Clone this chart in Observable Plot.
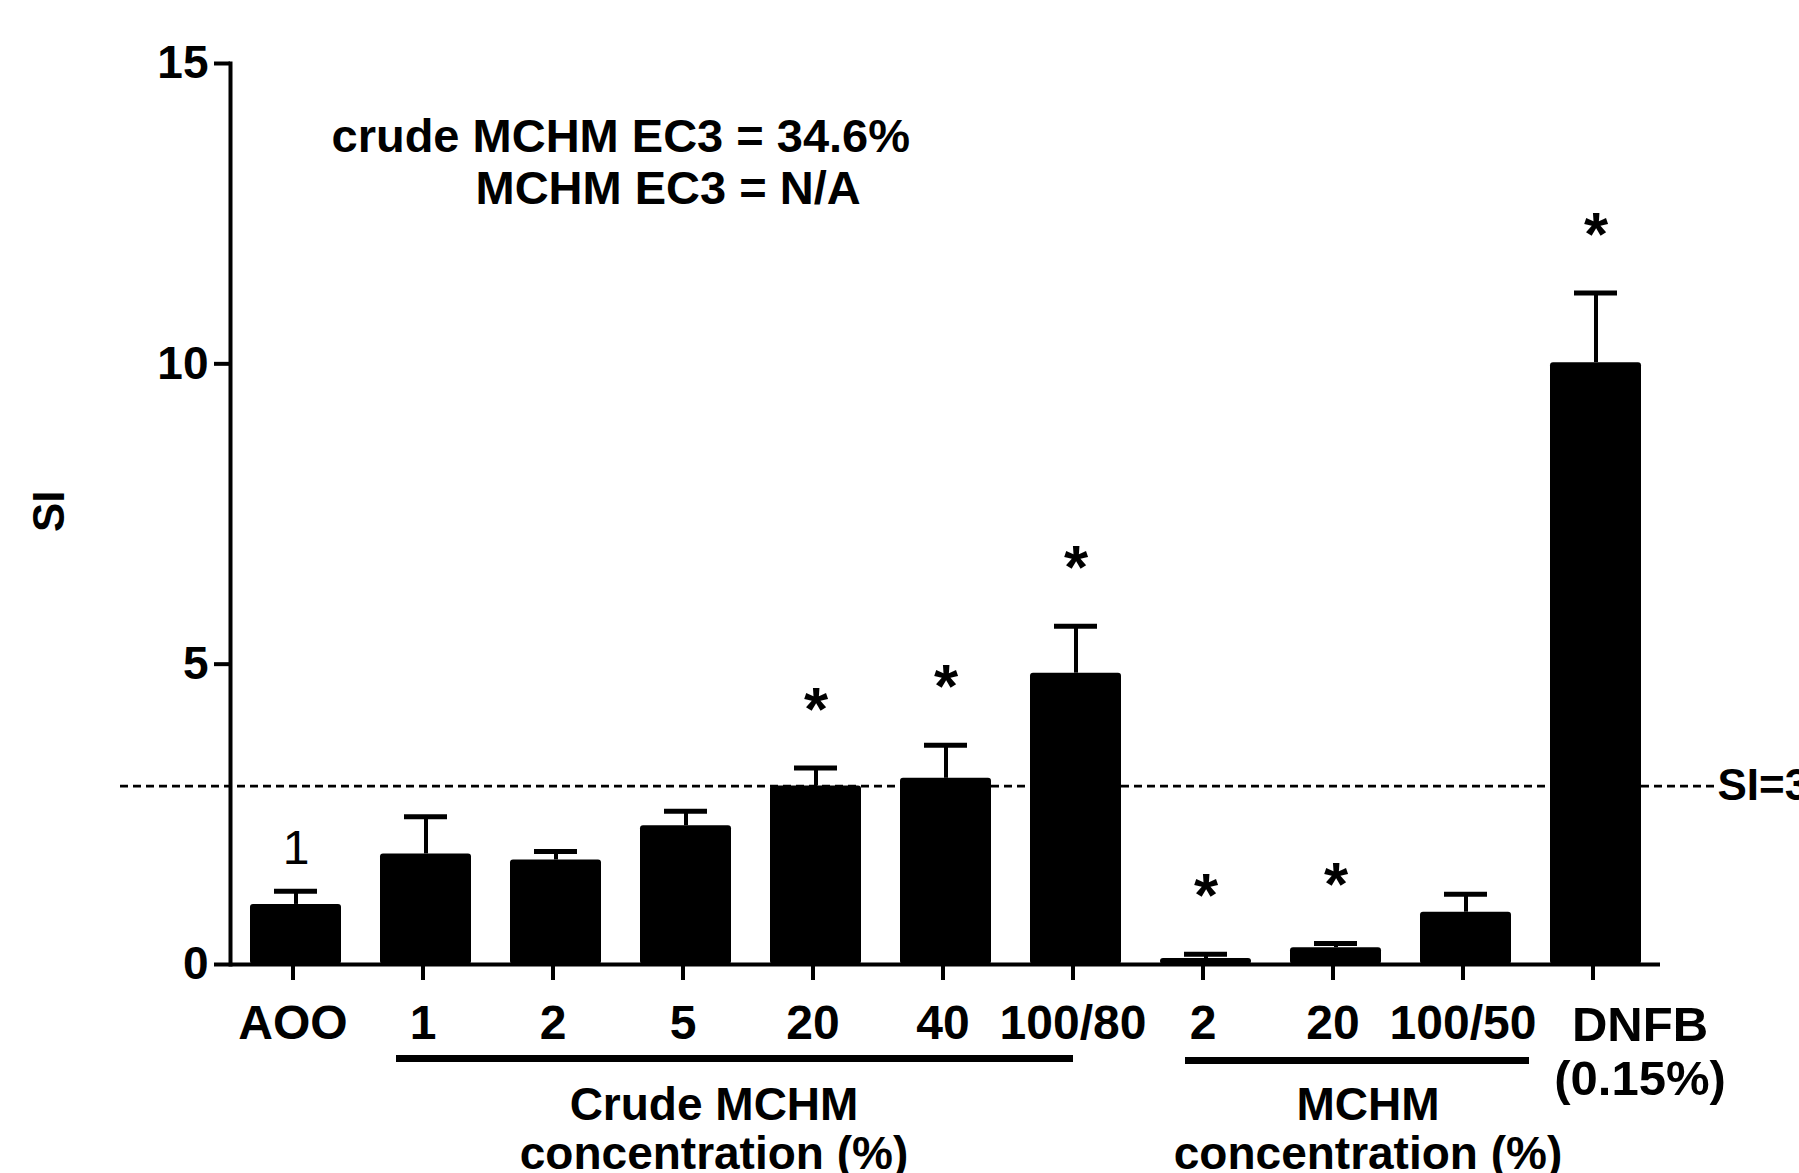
<!DOCTYPE html>
<html><head><meta charset="utf-8">
<script src="https://cdn.jsdelivr.net/npm/d3@7"></script>
<script src="https://cdn.jsdelivr.net/npm/@observablehq/plot@0.6"></script>
<style>body{margin:0;background:#fff;overflow:hidden}</style>
</head><body><div id="chart"></div>
<script>
const categories = ["AOO","C1","C2","C5","C20","C40","C100","M2","M20","M100","DNFB"];
const tickLabels = ["AOO","1","2","5","20","40","100/80","2","20","100/50",""];
const means  = [1.00, 1.84, 1.74, 2.31, 2.97, 3.10, 4.85, 0.10, 0.28, 0.87, 10.02];
const errors = [0.22, 0.62, 0.14, 0.24, 0.30, 0.55, 0.78, 0.07, 0.07, 0.30, 1.16];
const sigMarks = ["1","","","","*","*","*","*","*","","*"];
const yTicks = [0, 5, 10, 15];
const threshold = 2.97;
const thresholdLabel = "SI=3";
const ec3Lines = ["crude MCHM EC3 = 34.6%", "MCHM EC3 = N/A"];
const dnfbLabel = "DNFB\n(0.15%)";
const groupLabels = ["Crude MCHM\nconcentration (%)", "MCHM\nconcentration (%)"];
const yLabel = "SI";

const data = categories.map((id, i) => ({id, label: tickLabels[i], mean: means[i], err: errors[i], sig: sigMarks[i]}));
const labelOf = new Map(categories.map((c, i) => [c, tickLabels[i]]));
const FONT = "'Liberation Sans', Arial, Helvetica, sans-serif";

const plot = Plot.plot({
  width: 1799, height: 1173,
  marginTop: 63, marginBottom: 209, marginLeft: 230, marginRight: 139,
  style: {fontFamily: FONT, background: "#fff", color: "#000", overflow: "visible"},
  x: {domain: categories, paddingInner: 0.3, paddingOuter: 0.15},
  y: {domain: [0, 15]},
  marks: [
    Plot.ruleY([threshold], {stroke: "#000", strokeWidth: 2.8, strokeDasharray: "8,5", insetLeft: -110, insetRight: -55}),
    Plot.ruleX(data, {x: "id", y1: "mean", y2: d => d.mean + d.err, stroke: "#000", strokeWidth: 4}),
    Plot.tickY(data, {x: "id", y: d => d.mean + d.err, stroke: "#000", strokeWidth: 5, insetLeft: 24, insetRight: 24}),
    Plot.barY(data, {x: "id", y: "mean", fill: "#000", rx: 3}),
    Plot.ruleY([0], {stroke: "#000", strokeWidth: 4}),
    Plot.frame({anchor: "left", stroke: "#000", strokeWidth: 4}),
    Plot.axisY({ticks: yTicks, tickSize: 16, tickPadding: 6, strokeWidth: 4, fontSize: 46, fontWeight: "bold", label: null}),
    Plot.axisX({tickSize: 16, tickPadding: 24, strokeWidth: 4, fontSize: 48, fontWeight: "bold", tickFormat: d => labelOf.get(d), label: null, dx: -3}),
    Plot.text([dnfbLabel], {x: () => "DNFB", y: () => 0, text: d => d, dx: 44, dy: 38, lineAnchor: "top", lineHeight: 1.1, fontSize: 49, fontWeight: "bold"}),
    Plot.text(data.filter(d => d.sig === "*"), {x: "id", y: d => d.mean + d.err, text: "sig", dy: -58, fontSize: 62, fontWeight: "bold"}),
    Plot.text(data.filter(d => d.sig === "1"), {x: "id", y: d => d.mean + d.err, text: "sig", dy: -43, fontSize: 48}),
    Plot.text([thresholdLabel], {y: () => threshold, frameAnchor: "right", text: d => d, textAnchor: "start", dx: 57, fontSize: 44, fontWeight: "bold"}),
    Plot.text([ec3Lines[0]], {frameAnchor: "top-left", text: d => d, textAnchor: "start", dx: 101, dy: 55, fontSize: 47, fontWeight: "bold"}),
    Plot.text([ec3Lines[1]], {frameAnchor: "top-left", text: d => d, textAnchor: "start", dx: 245, dy: 107, fontSize: 47, fontWeight: "bold"}),
    Plot.text([yLabel], {frameAnchor: "left", text: d => d, rotate: -90, dx: -181, dy: 18, fontSize: 44, fontWeight: "bold"}),
    Plot.ruleY([0], {x1: () => "C1", x2: () => "C100", dy: 94, stroke: "#000", strokeWidth: 7, insetLeft: 16, insetRight: 48}),
    Plot.ruleY([0], {x1: () => "M2", x2: () => "M100", dy: 96, stroke: "#000", strokeWidth: 7, insetLeft: 25, insetRight: -18}),
    Plot.text([groupLabels[0]], {x: () => "C5", y: () => 0, text: d => d, dx: 28, dy: 164, lineHeight: 1.07, fontSize: 46, fontWeight: "bold"}),
    Plot.text([groupLabels[1]], {x: () => "M20", y: () => 0, text: d => d, dx: 32, dy: 164, lineHeight: 1.07, fontSize: 46, fontWeight: "bold"})
  ]
});
document.getElementById("chart").appendChild(plot);
</script>
</body></html>
